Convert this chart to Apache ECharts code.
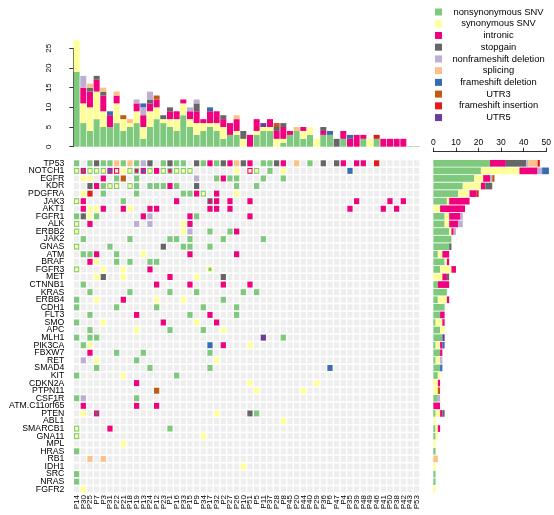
<!DOCTYPE html>
<html><head><meta charset="utf-8">
<script src="https://cdn.jsdelivr.net/npm/echarts@6/dist/echarts.min.js"></script>
<style>html,body{margin:0;padding:0;background:#fff}#c{width:554px;height:515px}</style>
</head><body><div id="c"></div>
<script>
const samples = ['P14','P30','P25','P7','P3','P31','P22','P21','P18','P19','P13','P24','P12','P23','P1','P16','P33','P15','P9','P34','P17','P32','P2','P27','P26','P10','P51','P5','P11','P37','P28','P8','P45','P20','P44','P40','P29','P36','P6','P47','P4','P35','P39','P48','P49','P46','P41','P50','P38','P42','P43','P53'];
const genes = ['TP53','NOTCH1','EGFR','KDR','PDGFRA','JAK3','AKT1','FGFR1','ALK','ERBB2','JAK2','GNAS','ATM','BRAF','FGFR3','MET','CTNNB1','KRAS','ERBB4','CDH1','FLT3','SMO','APC','MLH1','PIK3CA','FBXW7','RET','SMAD4','KIT','CDKN2A','PTPN11','CSF1R','ATM.C11orf65','PTEN','ABL1','SMARCB1','GNA11','MPL','HRAS','RB1','IDH1','SRC','NRAS','FGFR2'];
const mutTypes = ['nonsynonymous SNV','synonymous SNV','intronic','stopgain','nonframeshift deletion','splicing','frameshift deletion','UTR3','frameshift insertion','UTR5'];
const typeCodes = ['N','S','I','X','D','P','F','U','R','V'];
const typeColors = ['#7FC97F','#FFFF99','#F0027F','#666666','#BEAED4','#FDC086','#386CB0','#BF5B17','#E31A1C','#6A3D9A'];

// mutations per sample (top bars)
const topNonsynSNV   = [19,6,4,7,5,5,6,4,5,6,2,5,7,6,5,4,8,5,3,4,5,4,2,3,3,0,0,3,4,4,0,1,3,4,2,3,0,3,3,0,2,0,0,2,0,2,0,0,0,0,0.15,0.15];
const topSynSNV      = [8,5,6,7,4,0,5,3,1,3,3,4,3,1,2,3,3,2,3,2,1,2,3,0,1,2,0,1,1,1,2,1,0,0,2,2,2,0,0,0,0,0,0,0,2,0,0,0,0,0,0,0];
const topIntronic    = [0,4,4,3,4,3,2,0,0,2,3,2,2,0,2,2,1,2,3,1,3,3,2,3,3,0,3,3,0,2,2,3,1,0,1,0,0,1,0,0,2,2,3,1,0,0,2,2,2,2,0,0];
const topStopgain    = [0,0,1,1,1,0,0,0,0,0,0,1,0,1,1,0,0,0,2,0,0,0,1,0,0,2,0,0,0,0,1,1,0,0,0,0,0,1,0,2,0,0,0,0,0,0,0,0,0,0,0,0];
const topNonframeDel = [0,3,0,0,0,0,0,0,0,1,2,2,0,0,0,0,0,1,1,0,0,0,0,0,0,0,0,0,0,0,0,0,0,0,0,0,0,0,0,0,0,0,0,0,0,0,0,0,0,0,0,0];
const topSplicing    = [0,0,1,0,1,0,1,0,1,0,0,0,0,0,0,0,0,0,0,0,0,0,0,0,1,0,0,0,0,0,0,0,0,1,0,0,0,0,0,0,0,0,0,0,0,0,0,0,0,0,0,0];
const topFrameDel    = [0,0,0,0,0,1,0,0,0,0,1,0,0,0,0,0,0,0,0,0,1,0,0,0,0,0,0,0,0,0,0,0,0,0,0,0,0,0,1,0,0,1,0,0,0,0,0,0,0,0,0,0];
const topUTR3        = [0,0,0,0,0,0,0,1,0,0,0,0,1,0,0,0,0,0,0,0,0,0,0,0,0,0,0,0,0,0,1,0,0,0,0,0,0,0,0,0,0,0,0,0,0,0,0,0,0,0,0,0];
const topFrameIns    = [0,0,0,0,0,0,0,0,0,0,0,0,0,0,0,0,0,0,0,0,0,0,0,0,0,0,0,0,0,0,0,0,0,0,0,0,0,0,0,0,0,0,0,0,0,1,0,0,0,0,0,0];
const topUTR5        = [0,0,0,0,0,0,0,0,0,0,0,0,0,0,0,0,0,0,0,0,0,0,0,0,0,0,0,0,1,0,0,0,0,0,0,0,0,0,0,0,0,0,0,0,0,0,0,0,0,0,0,0];

// mutations per gene (right bars)
const geneNonsynSNV   = [25,21,18,13,11,6,0,5,5,7,8,7,2,5,3,0,2,6,2,5,3,1,3,4,1,3,1,3,2,0,0,2,0,1,0,1,1,0,1,0,0,1,1,0];
const geneSynSNV      = [0,17,4,8,5,1,3,2,2,1,0,0,2,1,5,4,0,0,4,0,0,3,2,0,2,0,2,0,1,2,2,0,0,2,1,1,1,1,0,0,1,0,0,1];
const geneIntronic    = [7,8,3,2,3,9,11,5,4,1,0,0,3,1,2,2,5,0,1,0,2,1,0,0,1,1,0,0,0,1,0,0,3,1,0,1,0,0,0,0,0,0,0,0];
const geneStopgain    = [9,0,0,3,0,0,0,0,0,0,0,1,0,0,0,1,0,0,0,0,0,0,0,0,0,0,0,0,0,0,0,0,0,1,0,0,0,0,0,0,0,0,0,0];
const geneNonframeDel = [1,2,1,0,0,0,0,1,2,1,0,0,0,0,0,0,0,0,0,0,0,0,0,0,0,0,1,0,0,0,0,1,0,0,0,0,0,0,0,0,0,0,0,0];
const geneSplicing    = [4,0,0,0,0,0,0,0,0,0,0,0,0,0,0,0,0,0,0,0,0,0,0,0,0,0,0,0,0,0,0,0,0,0,0,0,0,0,0,2,0,0,0,0];
const geneFrameDel    = [0,3,0,0,0,0,0,0,0,0,0,0,0,0,0,0,0,0,0,0,0,0,0,0,1,0,0,1,0,0,0,0,0,0,0,0,0,0,0,0,0,0,0,0];
const geneUTR3        = [0,0,1,0,0,0,0,0,0,0,0,0,0,0,0,0,0,0,0,0,0,0,0,0,0,0,0,0,0,0,1,0,0,0,0,0,0,0,0,0,0,0,0,0];
const geneFrameIns    = [1,0,0,0,1,0,0,0,0,0,0,0,0,0,0,0,0,0,0,0,0,0,0,0,0,0,0,0,0,0,0,0,0,0,0,0,0,0,0,0,0,0,0,0];
const geneUTR5        = [0,0,0,0,0,0,0,0,0,0,0,0,0,0,0,0,0,0,0,0,0,0,0,1,0,0,0,0,0,0,0,0,0,0,0,0,0,0,0,0,0,0,0,0];

// oncoprint cells per gene: "column+codes" (first code = full cell, second = inner mark)
const cellsTP53    = '0N 2N 3X 4N 5N 6P 7N 8P 9N 10D 11X 13N 14X 15N 16N 18X 19N 20I 21N 22X 23I 24P 25X 26I 28N 29N 30X 31I 33P 35N 37X 39X 40I 42I 43I 45R';
const cellsNOTCH1  = '0NS 1IX 2NS 3NS 4NS 5IF 6IS 7S 8NS 9NI 10IF 11NS 12I 13NS 14NI 15NS 16NS 17NS 24S 26IS 27NS 29N 31S 41F';
const cellsEGFR    = '1S 2S 4I 6N 7U 9N 18D 21N 22I 23N 24N 28N 31N';
const cellsKDR     = '2X 3I 4N 5NS 6NS 8NS 9N 11N 12N 13N 14I 15N 18X 24N 27N';
const cellsPDGFRA  = '1S 2R 4N 9N 16N 17N 18I 19NS 21I 24S';
const cellsJAK3    = '0NS 1I 7N 15I 20XI 21I 23I 26I 42I 47I 49I';
const cellsAKT1    = '1I 2S 3S 4I 7I 8S 11I 12I 20I 21I 23I 41I 46I 48I';
const cellsFGFR1   = '0N 1X 2S 3N 10I 11D 17I 18N 26I';
const cellsALK     = '0NS 2I 9D 11D 16S 17I';
const cellsERBB2   = '0NS 16S 17D 20N 23N 24I';
const cellsJAK2    = '1N 8N 14N 15N 17N 22N 28N';
const cellsGNAS    = '0NS 5N 13X 16N 17N 20N';
const cellsATM     = '1N 2N 3I 6N 10S 17I 24I';
const cellsBRAF    = '2I 3S 6N 8N 11N 12N';
const cellsFGFR3   = '0NS 4S 7S 11I 20SN';
const cellsMET     = '3S 4X 7S 14I 18S 22X';
const cellsCTNNB1  = '1N 12I 17I 22I 26I';
const cellsKRAS    = '2N 8N 14N 18N 25N 27N';
const cellsERBB4   = '0N 3S 7I 12S 16S 22N';
const cellsCDH1    = '0N 6N 12N 19N 24N';
const cellsFLT3    = '2N 9I 17N 20I 24N';
const cellsSMO     = '0N 4S 13I 18S 21I';
const cellsAPC     = '2N 9S 14N 19N 22S';
const cellsMLH1    = '0N 2N 3N 28V 31N';
const cellsPIK3CA  = '1N 2S 20F 22I 26S';
const cellsFBXW7   = '2I 6N 10N 20N';
const cellsRET     = '1D 3S 9N 21S';
const cellsSMAD4   = '3N 11N 20N 38F';
const cellsKIT     = '0N 7S 15N';
const cellsCDKN2A  = '9I 26S 36S';
const cellsPTPN11  = '12U 27S 34S';
const cellsCSF1R   = '0N 1D 9N';
const cellsATMC    = '1I 9I 12I';
const cellsPTEN    = '1S 3IX 21S 26X 27N';
const cellsABL1    = '31S';
const cellsSMARCB1 = '0NS 5I 14N';
const cellsGNA11   = '0NS 19S';
const cellsMPL     = '7S';
const cellsHRAS    = '0N';
const cellsRB1     = '2P 4P';
const cellsIDH1    = '25S';
const cellsSRC     = '0N';
const cellsNRAS    = '0N';
const cellsFGFR2   = '1S';
const geneCells = [cellsTP53,cellsNOTCH1,cellsEGFR,cellsKDR,cellsPDGFRA,cellsJAK3,cellsAKT1,cellsFGFR1,cellsALK,cellsERBB2,cellsJAK2,cellsGNAS,cellsATM,cellsBRAF,cellsFGFR3,cellsMET,cellsCTNNB1,cellsKRAS,cellsERBB4,cellsCDH1,cellsFLT3,cellsSMO,cellsAPC,cellsMLH1,cellsPIK3CA,cellsFBXW7,cellsRET,cellsSMAD4,cellsKIT,cellsCDKN2A,cellsPTPN11,cellsCSF1R,cellsATMC,cellsPTEN,cellsABL1,cellsSMARCB1,cellsGNA11,cellsMPL,cellsHRAS,cellsRB1,cellsIDH1,cellsSRC,cellsNRAS,cellsFGFR2];

const topArrays = [topNonsynSNV,topSynSNV,topIntronic,topStopgain,topNonframeDel,topSplicing,topFrameDel,topUTR3,topFrameIns,topUTR5];
const geneArrays = [geneNonsynSNV,geneSynSNV,geneIntronic,geneStopgain,geneNonframeDel,geneSplicing,geneFrameDel,geneUTR3,geneFrameIns,geneUTR5];

// build matrix data
const cellMap = {};
geneCells.forEach((str, gi) => {
  str.trim().split(/\s+/).forEach(tok => {
    const m = tok.match(/^(\d+)([A-Z]+)$/);
    if (!m) return;
    const c = +m[1];
    const outer = typeCodes.indexOf(m[2][0]);
    const inner = m[2].length > 1 ? typeCodes.indexOf(m[2][1]) : -1;
    cellMap[gi + '_' + c] = [outer, inner];
  });
});
const matrixData = [];
for (let g = 0; g < genes.length; g++) {
  for (let s = 0; s < samples.length; s++) {
    const v = cellMap[g + '_' + s] || [-1, -1];
    matrixData.push([s, g, v[0], v[1]]);
  }
}

// layout
const X0 = 73.3, COLW = 6.667, Y0 = 159.5, ROWH = 7.58;
const MW = COLW * samples.length, MH = ROWH * genes.length;
const TOPBASE = 146.7, UNIT = 3.936;
const RX0 = 433.3, RUNIT = 2.267;
const TOPMAX = 27, RMAX = 51;

const chart = echarts.init(document.getElementById('c'), null, {renderer: 'canvas'});
const font = 'Liberation Sans, Arial, sans-serif';

const series = [];
mutTypes.forEach((t, i) => {
  series.push({name: t, type: 'bar', stack: 'top', xAxisIndex: 0, yAxisIndex: 0,
    data: topArrays[i], barCategoryGap: '10%', itemStyle: {color: typeColors[i]}, animation: false});
});
mutTypes.forEach((t, i) => {
  series.push({name: t, type: 'bar', stack: 'right', xAxisIndex: 1, yAxisIndex: 1,
    data: geneArrays[i], barCategoryGap: '12%', itemStyle: {color: typeColors[i]}, animation: false});
});
series.push({
  type: 'custom', xAxisIndex: 2, yAxisIndex: 2, data: matrixData, animation: false, silent: true,
  renderItem: function (params, api) {
    const c = api.coord([api.value(0), api.value(1)]);
    const sz = api.size([1, 1]);
    const w = sz[0] - 1.4, h = sz[1] - 1.6;
    const o = api.value(2), inn = api.value(3);
    const ch = [{type: 'rect', shape: {x: c[0] - w / 2, y: c[1] - h / 2, width: w, height: h},
      style: {fill: o < 0 ? '#EEEEEE' : typeColors[o]}}];
    if (inn >= 0) {
      const iw = w * 0.6, ih = h * 0.6;
      ch.push({type: 'rect', shape: {x: c[0] - iw / 2, y: c[1] - ih / 2, width: iw, height: ih},
        style: {fill: typeColors[inn]}});
    }
    return {type: 'group', children: ch};
  }
});

const option = {
  backgroundColor: '#ffffff',
  animation: false,
  textStyle: {fontFamily: font},
  legend: {
    orient: 'vertical', left: 435, top: 7.5, padding: 0, itemWidth: 7, itemHeight: 7, itemGap: 2.73,
    icon: 'rect', selectedMode: false, data: mutTypes,
    formatter: function (n) { return '{c|' + n + '}'; },
    textStyle: {rich: {c: {width: 103, align: 'center', fontSize: 9.4, color: '#000', fontFamily: font}}}
  },
  grid: [
    {left: X0, width: MW, top: TOPBASE - TOPMAX * UNIT, height: TOPMAX * UNIT},
    {left: RX0, width: RMAX * RUNIT, top: Y0, height: MH},
    {left: X0, width: MW, top: Y0, height: MH},
    {left: X0, width: MW, top: TOPBASE - 25 * UNIT, height: 25 * UNIT},
    {left: RX0, width: 50 * RUNIT, top: 151.7, height: 2}
  ],
  xAxis: [
    {type: 'category', gridIndex: 0, data: samples, show: false},
    {type: 'value', gridIndex: 1, min: 0, max: RMAX, show: false},
    {type: 'category', gridIndex: 2, data: samples, position: 'bottom',
      axisLine: {show: false}, axisTick: {show: false},
      axisLabel: {rotate: 90, fontSize: 8, margin: 2, color: '#000', interval: 0, fontFamily: font}},
    {type: 'value', gridIndex: 3, min: 0, max: 1, show: false},
    {type: 'value', gridIndex: 4, min: 0, max: 50, interval: 10, position: 'top',
      axisLine: {show: true, lineStyle: {color: '#000', width: 0.8}},
      axisTick: {show: true, length: 4, inside: false, lineStyle: {color: '#000', width: 0.8}},
      axisLabel: {fontSize: 8.5, margin: 5, color: '#000', fontFamily: font},
      splitLine: {show: false}}
  ],
  yAxis: [
    {type: 'value', gridIndex: 0, min: 0, max: TOPMAX, show: false},
    {type: 'category', gridIndex: 1, data: genes, inverse: true, show: false},
    {type: 'category', gridIndex: 2, data: genes, inverse: true,
      axisLine: {show: false}, axisTick: {show: false},
      axisLabel: {fontSize: 8.7, margin: 9, color: '#000', interval: 0, fontFamily: font}},
    {type: 'value', gridIndex: 3, min: 0, max: 25, interval: 5, offset: 15,
      axisLine: {show: true, lineStyle: {color: '#000', width: 0.8}},
      axisTick: {show: true, length: 4, lineStyle: {color: '#000', width: 0.8}},
      axisLabel: {rotate: 90, fontSize: 8, margin: 6, color: '#000', fontFamily: font},
      splitLine: {show: false}},
    {type: 'category', gridIndex: 4, data: ['a'], show: false}
  ],
  series: series
};
chart.setOption(option);
</script>
</body></html>
